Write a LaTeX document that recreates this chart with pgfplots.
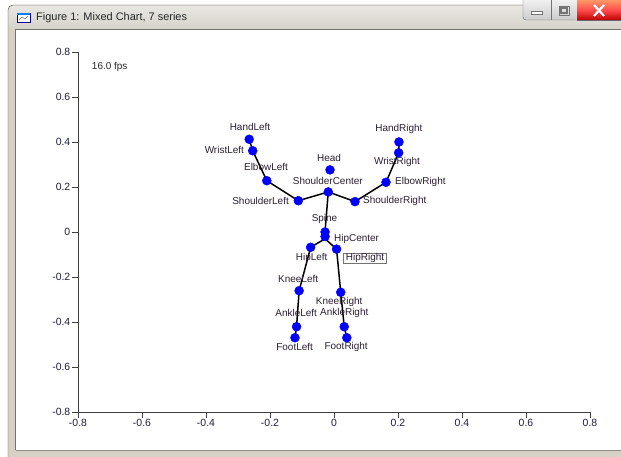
\documentclass[border=0pt]{standalone}
\usepackage{pgfplots}
\pgfplotsset{compat=1.18}
\usepackage{fontspec}
\setmainfont{Liberation Sans}
\definecolor{frameC}{HTML}{D6D1C4}
\definecolor{titleTop}{HTML}{E9E7E2}
\definecolor{titleBot}{HTML}{D5D2CA}
\definecolor{tickC}{HTML}{1E1E3C}
\definecolor{labC}{HTML}{2A2030}
\definecolor{axC}{HTML}{404040}
\begin{document}
\begin{tikzpicture}[x=1bp,y=1bp]
\useasboundingbox (0,0) rectangle (621,457);
\fill[white] (0,0) rectangle (621,457);
% window frame
\fill[frameC, rounded corners=5] (8,-5) rectangle (630,452);
\shade[top color=titleTop, bottom color=titleBot, rounded corners=5] (8.5,427) rectangle (630,451.5);
\draw[black!70, rounded corners=5] (8,-5) -- (8,452) -- (630,452);
\fill[white] (16,7) rectangle (621,427);
\draw[black!55] (15.5,6.5) -- (15.5,427.5) -- (621,427.5);
\draw[black!45] (15.5,6.5) -- (621,6.5);
% title icon and text
\fill[white] (17,435) rectangle (30,444);
\draw[blue!60!black, line width=0.8] (17,435) rectangle (30,444);
\fill[blue!50!cyan] (17,442) rectangle (30,444);
\draw[black!60, line width=0.5] (19,437) -- (22,440) -- (25,438) -- (28,441);
\node[anchor=base west, inner sep=0, font=\fontsize{11}{13}\selectfont, text=black!85] at (36,436) {Figure 1: Mixed Chart, 7 series};
% buttons
\shade[top color=white!95!gray, bottom color=black!20, rounded corners=3] (523,437) rectangle (577,462);
\draw[black!60, rounded corners=3] (523,462) -- (523,437) -- (577,437);
\draw[black!55] (551,437) -- (551,457);
\fill[black!55] (531,442) rectangle (543,446);
\fill[white] (532,443) rectangle (542,445);
\draw[black!55, line width=0.8] (559,442) rectangle (569,451);
\draw[black!55, line width=1.6] (561,444) rectangle (567,449);
\shade[top color=red!35!orange!60, bottom color=red!75!black, middle color=red!70] (577,437) rectangle (621,457);
\draw[black!60] (577,437) -- (621,437);
\draw[white, line width=2.2] (594,441) -- (604,452);
\draw[white, line width=2.2] (594,452) -- (604,441);
\begin{axis}[
  at={(78bp,45bp)}, anchor=south west, scale only axis,
  width=512bp, height=360bp,
  xmin=-0.8, xmax=0.8, ymin=-0.8, ymax=0.8,
  axis lines=left, axis line style={-, axC, line width=0.9bp},
  tick align=outside, major tick length=6bp,
  every tick/.style={axC, line width=0.9bp},
  xtick={-0.8,-0.6,-0.4,-0.2,0,0.2,0.4,0.6,0.8},
  ytick={-0.8,-0.6,-0.4,-0.2,0,0.2,0.4,0.6,0.8},
  xticklabels={-0.8,-0.6,-0.4,-0.2,0,0.2,0.4,0.6,0.8},
  yticklabels={-0.8,-0.6,-0.4,-0.2,0,0.2,0.4,0.6,0.8},
  ticklabel style={font=\fontsize{10.5}{12}\selectfont, text=tickC},
  yticklabel style={inner sep=1.5bp},
  xticklabel style={inner sep=1.5bp},
  clip=false,
]
% joints
\addplot[only marks, mark=*, mark size=4.5bp, color=blue, mark options={fill=blue, draw=blue}] coordinates {
 (-0.265,0.412) (-0.254,0.361) (-0.210,0.228) (-0.1115,0.139)
 (-0.018,0.178) (-0.0125,0.276) (0.0656,0.135) (0.1625,0.221)
 (0.202,0.352) (0.203,0.400) (-0.028,0.000) (-0.028,-0.020)
 (-0.073,-0.068) (0.008,-0.076) (-0.109,-0.261) (0.021,-0.268)
 (-0.117,-0.421) (0.032,-0.421) (-0.122,-0.470) (0.040,-0.470)
};
% bones
\addplot[black, line width=1.5bp, mark=none] coordinates {(-0.018,0.178) (-0.028,0.000) (-0.028,-0.030)};
\addplot[black, line width=1.5bp, mark=none] coordinates {(-0.018,0.178) (-0.1115,0.139) (-0.210,0.228) (-0.254,0.361) (-0.265,0.412)};
\addplot[black, line width=1.5bp, mark=none] coordinates {(-0.018,0.178) (0.0656,0.135) (0.1625,0.221) (0.202,0.352) (0.203,0.400)};
\addplot[black, line width=1.5bp, mark=none] coordinates {(-0.028,-0.030) (-0.073,-0.068) (-0.109,-0.261) (-0.117,-0.421) (-0.122,-0.470)};
\addplot[black, line width=1.5bp, mark=none] coordinates {(-0.028,-0.030) (0.008,-0.076) (0.021,-0.268) (0.032,-0.421) (0.040,-0.470)};
% labels
\begin{scope}[every node/.style={font=\fontsize{10}{12}\selectfont, text=labC, inner sep=0}]
\node at (axis cs:-0.2625,0.468) {HandLeft};
\node[anchor=east] at (axis cs:-0.281,0.364) {WristLeft};
\node at (axis cs:-0.2125,0.2876) {ElbowLeft};
\node[anchor=east] at (axis cs:-0.1406,0.139) {ShoulderLeft};
\node at (axis cs:-0.0194,0.228) {ShoulderCenter};
\node at (axis cs:-0.0156,0.330) {Head};
\node[anchor=west] at (axis cs:0.0906,0.1378) {ShoulderRight};
\node[anchor=west] at (axis cs:0.1906,0.222) {ElbowRight};
\node at (axis cs:0.197,0.310) {WristRight};
\node at (axis cs:0.203,0.458) {HandRight};
\node at (axis cs:-0.0297,0.0564) {Spine};
\node[anchor=west] at (axis cs:0.0,-0.031) {HipCenter};
\node at (axis cs:-0.0697,-0.114) {HipLeft};
\node[anchor=west, draw=black!55, inner xsep=2.5bp, inner ysep=0.6bp] at (axis cs:0.029,-0.117) {HipRight};
\node at (axis cs:-0.112,-0.209) {KneeLeft};
\node at (axis cs:0.01625,-0.310) {KneeRight};
\node at (axis cs:-0.118,-0.361) {AnkleLeft};
\node at (axis cs:0.032,-0.360) {AnkleRight};
\node at (axis cs:-0.123,-0.510) {FootLeft};
\node at (axis cs:0.038,-0.510) {FootRight};
\node[anchor=west, font=\fontsize{10}{12}\selectfont, text=black!85] at (axis cs:-0.757,0.735) {16.0 fps};
\end{scope}
\end{axis}
\end{tikzpicture}
\end{document}
